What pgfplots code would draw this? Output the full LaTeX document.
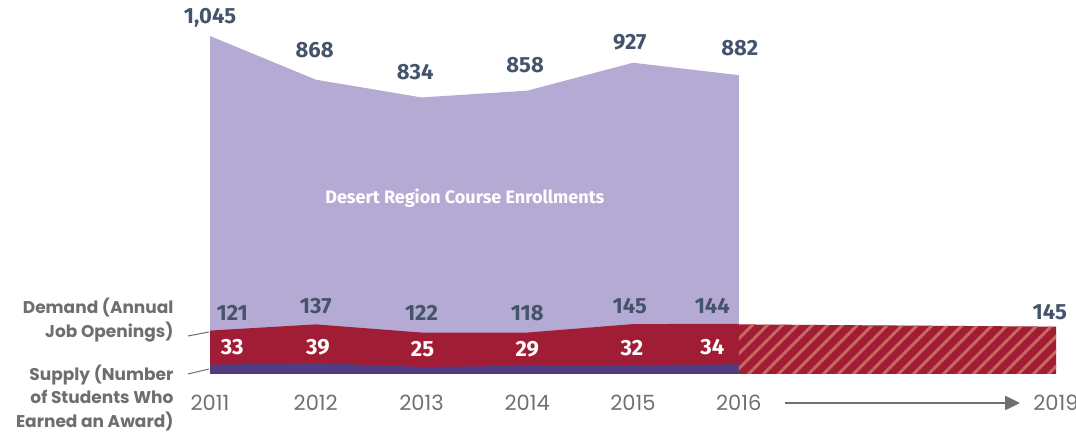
\documentclass[border=0pt]{standalone}
\usepackage{fontspec}
\setmainfont{Fira Sans}
\newfontfamily\gothic{Poppins}
\usepackage{pgfplots}
\usepackage{pgfplotstable}
\pgfplotsset{compat=1.18}
\usetikzlibrary{patterns.meta,arrows.meta}
\definecolor{lpurple}{HTML}{B4AAD3}
\definecolor{dred}{HTML}{A11D35}
\definecolor{dpurple}{HTML}{503D80}
\definecolor{lab}{HTML}{44546A}
\definecolor{stripe}{HTML}{C66760}
\definecolor{tickgray}{HTML}{707070}
\definecolor{sidegray}{HTML}{6E6E70}

\pgfplotstableread{
year supply demand enroll
2011 33 121 1045
2012 39 137 868
2013 25 122 834
2014 29 118 858
2015 32 145 927
2016 34 144 882
}\data
\pgfplotstableread{
year proj
2016 176
2019 168
}\proj

\begin{document}
\begin{tikzpicture}[x=1pt,y=1pt,
  lbl/.style={font=\bfseries\fontsize{22}{22}\selectfont, text=lab},
  wlbl/.style={font=\bfseries\fontsize{22}{22}\selectfont, text=white}]
\useasboundingbox (0,0) rectangle (1076,433);
\begin{axis}[
  at={(210pt,59pt)}, anchor=south west,
  scale only axis, width=846pt, height=366.5pt,
  xmin=2011, xmax=2019, ymin=0, ymax=1300,
  axis x line*=bottom, hide y axis,
  axis line style={draw=none},
  major tick length=0pt,
  xtick={2011,2012,2013,2014,2015,2016,2019},
  xticklabels={2011,2012,2013,2014,2015,2016,2019},
  xticklabel style={anchor=center, yshift=-29pt, font=\gothic\fontsize{21}{21}\selectfont, text=tickgray},
  clip=false,
]
\addplot[fill=lpurple, draw=none] table[x=year, y expr=\thisrow{supply}+\thisrow{demand}+\thisrow{enroll}] {\data} \closedcycle;
\addplot[fill=dred, draw=none] table[x=year, y expr=\thisrow{supply}+\thisrow{demand}] {\data} \closedcycle;
\addplot[fill=dpurple, draw=none] table[x=year, y=supply] {\data} \closedcycle;
\addplot[fill=dred, draw=none, postaction={pattern={Lines[angle=45,distance=10.6pt,line width=3pt]}, pattern color=stripe}] table[x=year, y=proj] {\proj} \closedcycle;

\node[lbl] at (axis cs:2011,1263) {1,045};
\node[lbl] at (axis cs:2011.99,1149) {868};
\node[lbl] at (axis cs:2012.94,1071) {834};
\node[lbl] at (axis cs:2013.98,1096) {858};
\node[lbl] at (axis cs:2014.97,1178) {927};
\node[lbl] at (axis cs:2016.01,1156) {882};

\node[lbl] at (axis cs:2011.21,216) {121};
\node[lbl] at (axis cs:2012.0,241) {137};
\node[lbl] at (axis cs:2013.0,216) {122};
\node[lbl] at (axis cs:2014.0,216) {118};
\node[lbl] at (axis cs:2014.97,241) {145};
\node[lbl] at (axis cs:2015.75,241) {144};
\node[lbl] at (axis cs:2018.94,220) {145};

\node[wlbl] at (axis cs:2011.21,96) {33};
\node[wlbl] at (axis cs:2012.02,96) {39};
\node[wlbl] at (axis cs:2013.01,89) {25};
\node[wlbl] at (axis cs:2014.0,89) {29};
\node[wlbl] at (axis cs:2014.99,92) {32};
\node[wlbl] at (axis cs:2015.75,96) {34};

\node[font=\bfseries\fontsize{18}{18}\selectfont, text=white] at (axis cs:2013.41,624) {Desert Region Course Enrollments};
\end{axis}
\node[anchor=east, align=right, font=\gothic\bfseries\fontsize{17}{24}\selectfont, text=sidegray] at (177,113) {Demand (Annual\\Job Openings)};
\node[anchor=east, align=right, font=\gothic\bfseries\fontsize{17}{23.5}\selectfont, text=sidegray] at (177,35) {Supply (Number\\of Students Who\\Earned an Award)};
\draw[sidegray, line width=1pt] (188,97) -- (209,101);
\draw[sidegray, line width=1pt] (188,59) -- (209,64);
\draw[tickgray, line width=2.5pt, -{Triangle[length=15pt,width=14pt]}] (785,30) -- (1020,30);
\end{tikzpicture}
\end{document}
